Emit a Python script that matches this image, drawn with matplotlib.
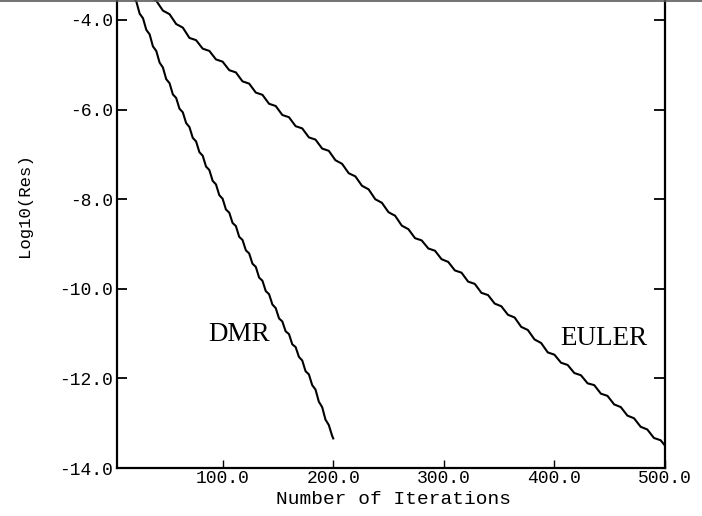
import matplotlib
matplotlib.use("Agg")
import matplotlib.pyplot as plt
from matplotlib.lines import Line2D

# ---- data ----
dmr_iter = [16, 19, 22, 25, 28, 31, 34, 37, 40, 43, 46, 49, 52, 55, 58, 61, 64, 67, 70, 73,
            76, 79, 82, 85, 88, 91, 94, 97, 100, 103, 106, 109, 112, 115, 118, 121, 124, 127,
            130, 133, 136, 139, 142, 145, 148, 151, 154, 157, 160, 163, 166, 169, 172, 175,
            178, 181, 184, 187, 190, 193, 196, 199, 200]
dmr_res = [-3.23, -3.49, -3.59, -3.86, -3.96, -4.22, -4.32, -4.59, -4.69, -4.95, -5.06, -5.32,
           -5.41, -5.66, -5.74, -5.98, -6.06, -6.30, -6.39, -6.63, -6.71, -6.95, -7.03, -7.27,
           -7.35, -7.59, -7.67, -7.91, -7.99, -8.23, -8.30, -8.53, -8.60, -8.84, -8.91, -9.14,
           -9.21, -9.44, -9.51, -9.75, -9.82, -10.05, -10.12, -10.35, -10.43, -10.66, -10.73,
           -10.95, -11.01, -11.24, -11.30, -11.52, -11.60, -11.84, -11.91, -12.15, -12.25,
           -12.52, -12.64, -12.92, -13.04, -13.28, -13.34]

euler_iter = [28, 34, 40, 46, 52, 58, 64, 70, 76, 82, 88, 94, 100, 106, 112, 118, 124, 130,
              136, 142, 148, 154, 160, 166, 172, 178, 184, 190, 196, 202, 208, 214, 220, 226,
              232, 238, 244, 250, 256, 262, 268, 274, 280, 286, 292, 298, 304, 310, 316, 322,
              328, 334, 340, 346, 352, 358, 364, 370, 376, 382, 388, 394, 400, 406, 412, 418,
              424, 430, 436, 442, 448, 454, 460, 466, 472, 478, 484, 490, 496, 500]
euler_res = [-3.28, -3.49, -3.57, -3.79, -3.87, -4.09, -4.17, -4.40, -4.45, -4.64, -4.69, -4.88,
             -4.93, -5.12, -5.17, -5.37, -5.42, -5.62, -5.67, -5.87, -5.92, -6.12, -6.17, -6.37,
             -6.42, -6.62, -6.67, -6.87, -6.92, -7.13, -7.21, -7.42, -7.49, -7.70, -7.78, -8.00,
             -8.08, -8.29, -8.37, -8.59, -8.67, -8.87, -8.92, -9.10, -9.15, -9.34, -9.40, -9.59,
             -9.64, -9.84, -9.89, -10.09, -10.14, -10.33, -10.39, -10.58, -10.64, -10.85, -10.92,
             -11.13, -11.21, -11.42, -11.47, -11.65, -11.70, -11.88, -11.93, -12.11, -12.15,
             -12.34, -12.39, -12.58, -12.64, -12.83, -12.89, -13.08, -13.14, -13.33, -13.38,
             -13.50]

series_labels = ["DMR", "EULER"]
label_pos = [(115, -11.03), (445, -11.10)]

yticks = [-14.0, -12.0, -10.0, -8.0, -6.0, -4.0]
ytick_labels = ["-14.0", "-12.0", "-10.0", "-8.0", "-6.0", "-4.0"]
xticks = [100, 200, 300, 400, 500]
xtick_labels = ["100.0", "200.0", "300.0", "400.0", "500.0"]

# ---- figure ----
W, H = 702, 516
fig = plt.figure(figsize=(W / 100, H / 100), dpi=100)
fig.patch.set_facecolor("white")
ax = fig.add_axes([117 / W, 48 / H, 548 / W, 468 / H])
ax.set_facecolor("white")

ax.plot(dmr_iter, dmr_res, color="black", lw=1.5)
ax.plot(euler_iter, euler_res, color="black", lw=1.5)

ax.set_xlim(4.5, 500)
ax.set_ylim(-14, -3.5536)

for s in ["left", "bottom", "right"]:
    ax.spines[s].set_linewidth(1.6)
    ax.spines[s].set_color("black")
ax.spines["top"].set_visible(False)

mono = "Liberation Mono"
ax.set_yticks(yticks, labels=ytick_labels)
ax.set_xticks(xticks, labels=xtick_labels)
for lab in ax.get_yticklabels() + ax.get_xticklabels():
    lab.set_fontfamily(mono)
    lab.set_fontsize(13)

ax.tick_params(axis="y", which="major", left=True, right=True, direction="in",
               length=7, width=1.3, pad=3, colors="black")
ax.tick_params(axis="y", which="major", right=True)
ax.tick_params(axis="x", which="major", direction="in", length=6, width=1.0, pad=1.5,
               colors="black")
# longer right ticks
for t in ax.yaxis.get_major_ticks():
    t.tick2line.set_markersize(8)

for name, (px, py) in zip(series_labels, label_pos):
    ax.text(px, py, name, fontfamily="Liberation Serif", fontsize=19.5,
            ha="center", va="center", color="black")

fig.text(393 / W, 1 - 500 / H, "Number of Iterations", fontfamily=mono, fontsize=14,
         ha="center", va="center", color="black")
fig.text(25 / W, 1 - 205 / H, "Log10(Res)", fontfamily=mono, fontsize=12.5,
         rotation=90, ha="center", va="center", color="black")

# scan border at the top edge
fig.add_artist(Line2D([0, 1], [1 - 0.8 / H, 1 - 0.8 / H], transform=fig.transFigure,
                      color="#5a5a5a", lw=1.2))

fig.savefig("out.png", dpi=100, facecolor="white")
